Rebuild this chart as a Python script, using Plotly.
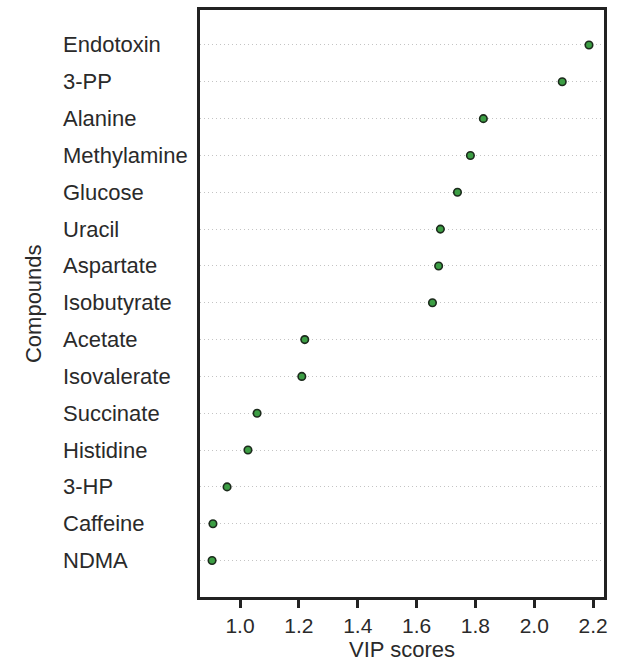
import plotly.graph_objects as go

compounds = ["Endotoxin", "3-PP", "Alanine", "Methylamine", "Glucose", "Uracil",
             "Aspartate", "Isobutyrate", "Acetate", "Isovalerate", "Succinate",
             "Histidine", "3-HP", "Caffeine", "NDMA"]
vip_scores = [2.186, 2.095, 1.827, 1.783, 1.739, 1.681, 1.675, 1.654,
              1.220, 1.210, 1.058, 1.027, 0.956, 0.908, 0.905]
x_ticks = [1.0, 1.2, 1.4, 1.6, 1.8, 2.0, 2.2]
x_tick_labels = ["1.0", "1.2", "1.4", "1.6", "1.8", "2.0", "2.2"]

FONT = "Liberation Sans, Arial, Helvetica, sans-serif"
TXT = "#2a2a2a"

fig = go.Figure()
fig.add_trace(go.Scatter(
    x=vip_scores, y=compounds, mode="markers",
    marker=dict(size=7.5, color="#3c9e44", line=dict(color="#1c2a1c", width=1.6)),
    showlegend=False, hoverinfo="x+y",
))

annotations = [
    dict(x=-0.344, xref="paper", y=c, yref="y", text=c, showarrow=False,
         xanchor="left", yanchor="middle",
         font=dict(family=FONT, size=22, color=TXT))
    for c in compounds
]
annotations.append(dict(x=-0.412, xref="paper", y=0.5, yref="paper", text="Compounds",
                        showarrow=False, textangle=-90, xanchor="center", yanchor="middle",
                        font=dict(family=FONT, size=22, color=TXT)))

fig.update_layout(
    width=628, height=665,
    margin=dict(l=200, r=24, t=7, b=67),
    paper_bgcolor="white", plot_bgcolor="white",
    font=dict(family=FONT, size=21, color=TXT),
    xaxis=dict(range=[0.864, 2.237], tickvals=x_ticks, ticktext=x_tick_labels,
               ticks="outside", ticklen=8, tickwidth=2.5, tickcolor="#222",
               showgrid=False, zeroline=False,
               showline=True, linewidth=3, linecolor="#222", mirror=True,
               tickfont=dict(family=FONT, size=21, color=TXT),
               title=dict(text="VIP scores", standoff=5,
                          font=dict(family=FONT, size=22, color=TXT))),
    yaxis=dict(type="category", categoryorder="array", categoryarray=compounds,
               range=[14.99, -0.95], showticklabels=False, ticks="",
               showgrid=True, gridcolor="#c4c4c4", griddash="1px,3px", gridwidth=1.2,
               zeroline=False,
               showline=True, linewidth=3, linecolor="#222", mirror=True),
    annotations=annotations,
)

fig.write_html("out.html", config={"displayModeBar": False},
               post_script="document.body.style.margin='0px';document.body.style.overflow='hidden';")
